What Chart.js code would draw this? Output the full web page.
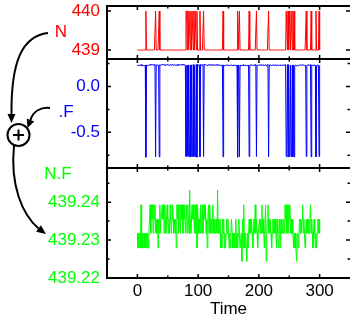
<!DOCTYPE html>
<html>
<head>
<meta charset="utf-8">
<script src="https://cdn.jsdelivr.net/npm/chart.js@4"></script>
<style>
  html, body { margin: 0; padding: 0; background: #fff; }
</style>
</head>
<body>
<canvas id="chart" width="350" height="320"></canvas>
<script>
/* Três painéis empilhados: N, .F e N.F ao longo do tempo */

// Eixo do tempo (uma amostra por unidade, 0..300)
const timeFirst = 0;
const timeLast = 300;
const timeTicks = [0, 100, 200, 300];
const timeMinorTicks = [50, 150, 250];

// N: fica em 439 e salta para 440 nestes instantes
const nBase = 439;
const nHigh = 440;
const nHighTimes = [14, 30, 36, 80, 81, 83, 85, 86, 88, 90, 91, 93, 95, 96, 98, 103, 109,
  141, 165, 168, 184, 196, 216, 245, 246, 248, 250, 251, 253, 254, 256, 258, 278, 286, 294, 299];

// N.F: níveis quantizados e o código de nível de cada instante (0 = mais alto)
const nfLevels = [439.2432, 439.2393, 439.2355, 439.2318, 439.2279, 439.2244];
const nfCodes =
  '3434341434' + '4343434343' + '2131213121' + '3232423132' + '2121312321' +
  '2323123212' + '3232412132' + '1312131213' + '2131230232' + '1212313141' +
  '2323132132' + '1213242131' + '2323123232' + '2303232434' + '2324343232' +
  '3434323434' + '3424343234' + '4352413434' + '5343232323' + '4323132343' +
  '3232313234' + '4153213232' + '3432323234' + '2343242323' + '3231213131' +
  '2132323434' + '3454343232' + '3213234323' + '2323213234' + '3234343232' + '3';

// Ticks dos eixos y
const nTicks = [439, 440];
const fTicks = [0, -0.5];
const fMinorTicks = [0.25, -0.25, -0.75];
const nfTicks = [439.22, 439.23, 439.24];
const nfMinorTicks = [439.225, 439.235, 439.245];

// Montagem das séries
const times = [];
for (let t = timeFirst; t <= timeLast; t++) times.push(t);
const nVals = times.map(t => nHighTimes.includes(t) ? nHigh : nBase);
const nfVals = times.map((t, i) => nfLevels[Number(nfCodes[i])]);
const fVals = nfVals.map((v, i) => v - nVals[i]); // N + .F = N.F

const RED = '#ff0000', BLUE = '#0000ff', GREEN = '#00ff00';
const FONT = { family: '"Liberation Sans", Arial, sans-serif', size: 17 };

const panels = [
  { id: 'yN', color: RED, ticks: nTicks, minor: [], min: 438.77, max: 440.13, weight: 53, digits: 0 },
  { id: 'yF', color: BLUE, ticks: fTicks, minor: fMinorTicks, min: -0.89, max: 0.30, weight: 109, digits: 1 },
  { id: 'yNF', color: GREEN, ticks: nfTicks, minor: nfMinorTicks, min: 439.22, max: 439.249, weight: 110, digits: 2 }
];

function yScale(p, order) {
  return {
    type: 'linear', position: 'left', stack: 'panels', stackWeight: p.weight, weight: order,
    min: p.min, max: p.max,
    grid: { display: false, drawTicks: false }, border: { display: false },
    afterBuildTicks: s => { s.ticks = p.ticks.map(v => ({ value: v })); },
    ticks: { font: FONT, color: p.color, padding: 7, autoSkip: false,
      callback: v => Number(v).toFixed(p.digits) },
    afterFit: s => { s.width = 107; s.paddingTop = 0; s.paddingBottom = 0; }
  };
}

const toPoints = vals => vals.map((v, i) => ({ x: times[i], y: v }));

// Moldura de cada painel com ticks para dentro
const framePlugin = {
  id: 'frame',
  afterDraw(chart) {
    const { ctx, chartArea: a, scales } = chart;
    const x = scales.x;
    const right = a.right + 1.5;
    ctx.save();
    ctx.strokeStyle = '#000';
    panels.forEach(p => {
      const s = scales[p.id];
      ctx.lineWidth = 2;
      ctx.strokeRect(a.left, s.top, right - a.left, s.bottom - s.top);
      ctx.lineWidth = 1.5;
      ctx.beginPath();
      const xt = (v, len) => {
        const px = x.getPixelForValue(v);
        ctx.moveTo(px, s.top); ctx.lineTo(px, s.top + len);
        ctx.moveTo(px, s.bottom); ctx.lineTo(px, s.bottom - len);
      };
      timeTicks.forEach(v => xt(v, 4));
      timeMinorTicks.forEach(v => xt(v, 2.5));
      const yt = (v, len) => {
        const py = s.getPixelForValue(v);
        ctx.moveTo(a.left, py); ctx.lineTo(a.left + len, py);
        ctx.moveTo(a.right, py); ctx.lineTo(a.right - len, py);
      };
      p.ticks.forEach(v => yt(v, 4));
      p.minor.forEach(v => yt(v, 2.5));
      ctx.stroke();
    });
    ctx.restore();
  }
};

// Rótulos coloridos e o diagrama de soma à esquerda
function arrow(ctx, pts, tip) {
  const [p0, c1, c2, p1] = pts;
  ctx.beginPath();
  ctx.moveTo(p0[0], p0[1]);
  ctx.bezierCurveTo(c1[0], c1[1], c2[0], c2[1], p1[0], p1[1]);
  ctx.stroke();
  const ang = Math.atan2(tip[1] - p1[1], tip[0] - p1[0]);
  const len = Math.hypot(tip[0] - p1[0], tip[1] - p1[1]);
  ctx.beginPath();
  ctx.moveTo(tip[0], tip[1]);
  ctx.lineTo(tip[0] - len * Math.cos(ang) + 4 * Math.sin(ang), tip[1] - len * Math.sin(ang) - 4 * Math.cos(ang));
  ctx.lineTo(tip[0] - len * Math.cos(ang) - 4 * Math.sin(ang), tip[1] - len * Math.sin(ang) + 4 * Math.cos(ang));
  ctx.closePath();
  ctx.fill();
}

const diagramPlugin = {
  id: 'diagram',
  afterDraw(chart) {
    const ctx = chart.ctx;
    ctx.save();
    ctx.font = `${FONT.size}px ${FONT.family}`;
    ctx.textAlign = 'center';
    ctx.textBaseline = 'middle';
    ctx.fillStyle = RED; ctx.fillText('N', 61, 32);
    ctx.fillStyle = BLUE; ctx.fillText('.F', 66, 112);
    ctx.fillStyle = GREEN; ctx.fillText('N.F', 58, 174);

    ctx.strokeStyle = '#000'; ctx.fillStyle = '#000'; ctx.lineWidth = 2;
    arrow(ctx, [[48, 33], [22, 36], [11, 62], [11.5, 114]], [11.5, 123]);
    arrow(ctx, [[50, 108], [41, 107], [33, 111], [30.5, 120]], [27.5, 128]);
    arrow(ctx, [[14, 146], [10, 185], [22, 214], [38.5, 228.5]], [46, 234]);

    ctx.beginPath();
    ctx.arc(18.5, 135, 11, 0, Math.PI * 2);
    ctx.stroke();
    ctx.beginPath();
    ctx.moveTo(13, 135); ctx.lineTo(24, 135);
    ctx.moveTo(18.5, 129.5); ctx.lineTo(18.5, 140.5);
    ctx.stroke();
    ctx.restore();
  }
};

new Chart(document.getElementById('chart').getContext('2d'), {
  type: 'line',
  data: {
    datasets: [
      { label: 'N', data: toPoints(nVals), yAxisID: 'yN', borderColor: RED },
      { label: '.F', data: toPoints(fVals), yAxisID: 'yF', borderColor: BLUE },
      { label: 'N.F', data: toPoints(nfVals), yAxisID: 'yNF', borderColor: GREEN }
    ]
  },
  options: {
    responsive: false,
    animation: false,
    layout: { padding: { top: 6, right: 0, bottom: 0, left: 0 } },
    elements: { point: { radius: 0 }, line: { borderWidth: 1, tension: 0 } },
    plugins: { legend: { display: false }, tooltip: { enabled: false } },
    scales: {
      x: {
        type: 'linear', position: 'bottom', min: -50, max: 350,
        grid: { display: false, drawTicks: false }, border: { display: false },
        afterBuildTicks: s => { s.ticks = timeTicks.map(v => ({ value: v })); },
        ticks: { font: FONT, color: '#000', padding: 3, maxRotation: 0, autoSkip: false },
        title: { display: true, text: 'Time', font: FONT, color: '#000', padding: { top: 0, bottom: 0 } },
        afterFit: s => { s.height = 42; s.paddingLeft = 0; s.paddingRight = 0; }
      },
      yNF: yScale(panels[2], 1),
      yF: yScale(panels[1], 2),
      yN: yScale(panels[0], 3)
    }
  },
  plugins: [framePlugin, diagramPlugin]
});
</script>
</body>
</html>
